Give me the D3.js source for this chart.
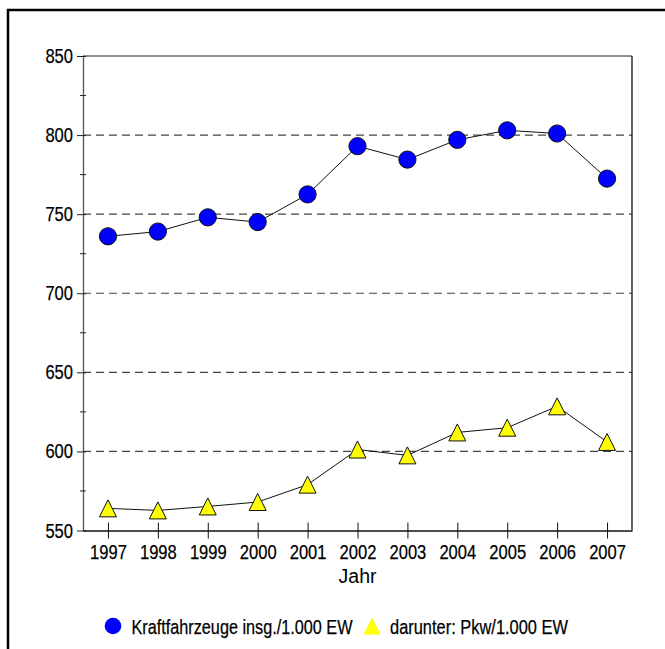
<!DOCTYPE html>
<html>
<head>
<meta charset="utf-8">
<script src="https://cdn.jsdelivr.net/npm/d3@7"></script>
<style>
  html, body { margin: 0; padding: 0; background: #fff; }
  svg { display: block; }
  .narrow { font-family: "Liberation Sans", Arial, sans-serif; font-size: 20.5px; fill: #000; stroke: #000; stroke-width: 0.25px; }
</style>
</head>
<body>
<svg id="chart" width="665" height="649"></svg>
<script>
// Vehicle density per 1,000 inhabitants, 1997–2007
const years = [1997, 1998, 1999, 2000, 2001, 2002, 2003, 2004, 2005, 2006, 2007];
const kfzTotal = [736, 739, 748, 745, 762.5, 793, 784.5, 797, 803, 801, 772.5];
const pkw = [564, 562.7, 565.2, 568, 579, 601.2, 597.5, 612, 615, 628.5, 606];
const yTicks = [550, 600, 650, 700, 750, 800, 850];
const gridValues = [600, 650, 700, 750, 800];
const seriesNames = ["Kraftfahrzeuge insg./1.000 EW", "darunter: Pkw/1.000 EW"];
const xTitle = "Jahr";

const svg = d3.select("#chart");

// condensed look: squeeze the glyphs horizontally to a fixed width per character
const digitW = 9.2;
const condense = (sel, width) => sel
  .attr("textLength", width)
  .attr("lengthAdjust", "spacingAndGlyphs");

// L-shaped frame (top and left edges)
svg.append("path")
  .attr("d", "M8,649 V10 H665")
  .attr("fill", "none")
  .attr("stroke", "#000")
  .attr("stroke-width", 2.5);

const plot = { left: 83, right: 632, top: 56, bottom: 530.5 };

const x = d3.scaleLinear().domain([1996.5, 2007.5]).range([plot.left, plot.right]);
const y = d3.scaleLinear().domain([550, 850]).range([plot.bottom, plot.top]);

// dashed grid
svg.append("g").selectAll("line").data(gridValues).join("line")
  .attr("x1", plot.left).attr("x2", plot.right)
  .attr("y1", d => y(d)).attr("y2", d => y(d))
  .attr("stroke", "#444").attr("stroke-width", 1.2)
  .attr("stroke-dasharray", "8,5");

// plot border: top grey, right dark
svg.append("line").attr("x1", plot.left).attr("x2", plot.right).attr("y1", plot.top).attr("y2", plot.top)
  .attr("stroke", "#666").attr("stroke-width", 1.3);
svg.append("line").attr("x1", plot.right).attr("x2", plot.right).attr("y1", plot.top).attr("y2", plot.bottom)
  .attr("stroke", "#111").attr("stroke-width", 1.3);

// y axis
const yAxis = d3.axisLeft(y).tickValues(yTicks).tickSize(6).tickPadding(4).tickSizeOuter(0);
const gy = svg.append("g").attr("transform", `translate(${plot.left},0)`).call(yAxis);
gy.attr("font-family", null).attr("font-size", null);
gy.select(".domain").attr("stroke", "#555").attr("stroke-width", 1.3);
gy.selectAll(".tick line").attr("x2", -6).attr("x1", 3).attr("stroke", "#222");
gy.selectAll(".tick text").attr("class", "narrow")
  .call(s => s.each(function (d) { condense(d3.select(this), String(d).length * digitW); }));

// minor y ticks
const minor = d3.range(575, 850, 50);
svg.append("g").selectAll("line").data(minor).join("line")
  .attr("x1", plot.left - 3).attr("x2", plot.left + 3)
  .attr("y1", d => y(d)).attr("y2", d => y(d))
  .attr("stroke", "#222").attr("stroke-width", 1);

// x axis
const xAxis = d3.axisBottom(x).tickValues(years).tickFormat(d3.format("d")).tickSize(8).tickPadding(6).tickSizeOuter(0);
const gx = svg.append("g").attr("transform", `translate(0,${plot.bottom})`).call(xAxis);
gx.attr("font-family", null).attr("font-size", null);
gx.select(".domain").attr("stroke", "#111").attr("stroke-width", 1.3);
gx.selectAll(".tick line").attr("y1", -8).attr("y2", 8).attr("stroke", "#111");
gx.selectAll(".tick text").attr("class", "narrow")
  .call(s => s.each(function (d) { condense(d3.select(this), String(d).length * digitW); }));

svg.append("text")
  .attr("x", (plot.left + plot.right) / 2).attr("y", 583)
  .attr("text-anchor", "middle")
  .attr("font-family", "'Liberation Sans', Arial, sans-serif")
  .attr("font-size", 19.5)
  .text(xTitle);

const line = d3.line().x((d, i) => x(years[i])).y(d => y(d));
const triPath = (w, h) => `M0,${-h / 2} L${w / 2},${h / 2} L${-w / 2},${h / 2} Z`;

// Total vehicles
svg.append("path").datum(kfzTotal).attr("d", line)
  .attr("fill", "none").attr("stroke", "#111").attr("stroke-width", 1);
svg.append("g").selectAll("circle").data(kfzTotal).join("circle")
  .attr("cx", (d, i) => x(years[i])).attr("cy", d => y(d))
  .attr("r", 8.6)
  .attr("fill", "#0000ff").attr("stroke", "#111").attr("stroke-width", 1);

// Passenger cars
svg.append("path").datum(pkw).attr("d", line)
  .attr("fill", "none").attr("stroke", "#111").attr("stroke-width", 1);
svg.append("g").selectAll("path").data(pkw).join("path")
  .attr("transform", (d, i) => `translate(${x(years[i])},${y(d)})`)
  .attr("d", triPath(17, 17))
  .attr("fill", "#ffff00").attr("stroke", "#111").attr("stroke-width", 1);

// Legend
const legY = 626;
svg.append("circle").attr("cx", 113).attr("cy", legY).attr("r", 8.3).attr("fill", "#0000ff");
svg.append("text").attr("class", "narrow").attr("x", 131.5).attr("y", legY + 8).text(seriesNames[0])
  .call(condense, 221);
svg.append("path").attr("transform", `translate(372,${legY})`).attr("d", triPath(17, 17)).attr("fill", "#ffff00");
svg.append("text").attr("class", "narrow").attr("x", 390).attr("y", legY + 8).text(seriesNames[1])
  .call(condense, 178);
</script>
</body>
</html>
